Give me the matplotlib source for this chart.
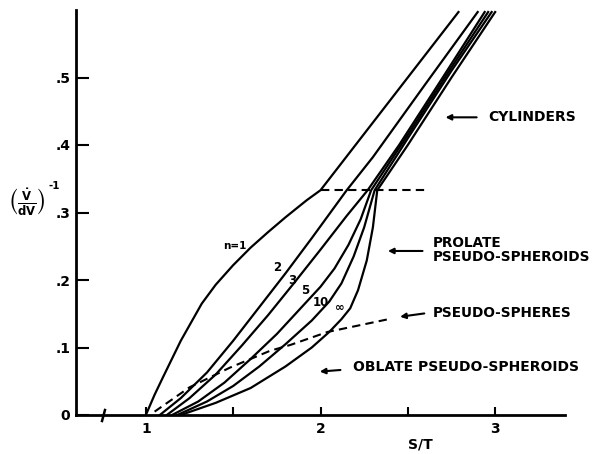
import matplotlib.pyplot as plt

plt.rcParams['font.family'] = 'DejaVu Sans'
plt.rcParams['font.weight'] = 'bold'
plt.rcParams['mathtext.default'] = 'bf'

# curves: (V/dV)^-1 against S/T for shape parameter n
n1_x = [1.00, 1.05, 1.10, 1.20, 1.32, 1.40, 1.50, 1.60, 1.70, 1.80, 1.92, 2.00, 2.79]
n1_y = [0.000, 0.030, 0.057, 0.110, 0.165, 0.193, 0.222, 0.248, 0.271, 0.293, 0.318, 0.333, 0.597]

n2_x = [1.08, 1.20, 1.35, 1.50, 1.65, 1.80, 1.95, 2.15, 2.30, 2.60, 2.90]
n2_y = [0.000, 0.025, 0.063, 0.110, 0.160, 0.210, 0.262, 0.333, 0.382, 0.490, 0.597]

n3_x = [1.12, 1.25, 1.40, 1.55, 1.70, 1.85, 2.00, 2.15, 2.27, 2.45, 2.70, 2.94]
n3_y = [0.000, 0.025, 0.060, 0.103, 0.148, 0.196, 0.245, 0.295, 0.333, 0.400, 0.500, 0.597]

n5_x = [1.15, 1.30, 1.45, 1.60, 1.75, 1.90, 2.00, 2.08, 2.16, 2.23, 2.29, 2.50, 2.75, 2.96]
n5_y = [0.000, 0.020, 0.048, 0.083, 0.120, 0.162, 0.190, 0.217, 0.252, 0.290, 0.333, 0.415, 0.515, 0.597]

n10_x = [1.18, 1.35, 1.50, 1.65, 1.80, 1.95, 2.05, 2.12, 2.19, 2.25, 2.31, 2.50, 2.75, 2.98]
n10_y = [0.000, 0.020, 0.043, 0.072, 0.105, 0.140, 0.168, 0.195, 0.235, 0.278, 0.333, 0.410, 0.510, 0.597]

ninf_x = [1.20, 1.40, 1.60, 1.80, 1.95, 2.05, 2.12, 2.17, 2.215, 2.265, 2.30, 2.325, 2.50, 2.75, 3.00]
ninf_y = [0.000, 0.018, 0.040, 0.072, 0.100, 0.123, 0.142, 0.158, 0.185, 0.229, 0.278, 0.333, 0.400, 0.500, 0.597]

curves = [(n1_x, n1_y), (n2_x, n2_y), (n3_x, n3_y), (n5_x, n5_y), (n10_x, n10_y), (ninf_x, ninf_y)]

# dashed boundaries
cyl_x = [2.00, 2.62]
cyl_y = [0.333, 0.333]
sphere_x = [1.05, 1.25, 1.48, 1.71, 1.83, 2.04, 2.28, 2.39]
sphere_y = [0.005, 0.041, 0.070, 0.095, 0.104, 0.123, 0.136, 0.142]

curve_labels = ['n=1', '2', '3', '5', '10', '∞']
label_x = [1.51, 1.75, 1.84, 1.91, 2.00, 2.11]
label_y = [0.251, 0.219, 0.200, 0.185, 0.167, 0.160]

fig = plt.figure(figsize=(5.94, 4.54), dpi=100)
ax = fig.add_axes([76 / 594, 39 / 454, 489 / 594, 405 / 454])

for cx, cy in curves:
    ax.plot(cx, cy, color='black', lw=1.6)

ax.plot(cyl_x, cyl_y, color='black', lw=1.5, dashes=(4, 2.5))
ax.plot(sphere_x, sphere_y, color='black', lw=1.5, dashes=(4, 2.5))

for t, lx, ly in zip(curve_labels, label_x, label_y):
    ax.text(lx, ly, t, fontsize=8.5 if t != 'n=1' else 7.5, fontweight='bold',
            ha='center', va='center')

# region annotations
arrow = dict(arrowstyle='-|>', color='black', lw=1.5, mutation_scale=8)
ax.annotate('', xy=(2.70, 0.441), xytext=(2.91, 0.441), arrowprops=arrow)
ax.text(2.96, 0.441, 'CYLINDERS', fontsize=10, ha='left', va='center')
ax.annotate('', xy=(2.37, 0.243), xytext=(2.60, 0.243), arrowprops=arrow)
ax.text(2.645, 0.244, 'PROLATE\nPSEUDO-SPHEROIDS', fontsize=9.8, ha='left', va='center',
        linespacing=1.0)
ax.annotate('', xy=(2.44, 0.145), xytext=(2.61, 0.151), arrowprops=arrow)
ax.text(2.645, 0.151, 'PSEUDO-SPHERES', fontsize=9.8, ha='left', va='center')
ax.annotate('', xy=(1.98, 0.064), xytext=(2.13, 0.067), arrowprops=arrow)
ax.text(2.186, 0.071, 'OBLATE PSEUDO-SPHEROIDS', fontsize=10, ha='left', va='center')

# axis break mark
ax.plot([0.755], [0], marker=(2, 0, -15), markersize=10, mew=1.8, color='black', clip_on=False)

ax.set_xlim(0.6, 3.4)
ax.set_ylim(0, 0.6)
ax.spines['top'].set_visible(False)
ax.spines['right'].set_visible(False)
ax.spines['left'].set_linewidth(2)
ax.spines['bottom'].set_linewidth(2)

ax.set_xticks([1, 1.5, 2, 2.5, 3])
ax.set_xticklabels(['1', '', '2', '', '3'])
ax.set_yticks([0, 0.1, 0.2, 0.3, 0.4, 0.5])
ax.set_yticklabels(['0', '.1', '.2', '.3', '.4', '.5'])
ax.tick_params(axis='x', direction='in', length=6, width=1.5, labelsize=10, pad=5)
ax.tick_params(axis='y', direction='in', length=9, width=1.5, labelsize=10, pad=4)

fig.text(420 / 594, 1 - 445 / 454, 'S/T', fontsize=10, fontweight='bold', ha='center', va='center')
fig.text(27 / 594, 1 - 202 / 454, r'$\left(\frac{\dot{V}}{dV}\right)$', fontsize=12,
         ha='center', va='center')
fig.text(48 / 594, 1 - 186 / 454, '-1', fontsize=7.5, fontweight='bold', ha='left', va='center')

plt.savefig('out.png', dpi=100)
